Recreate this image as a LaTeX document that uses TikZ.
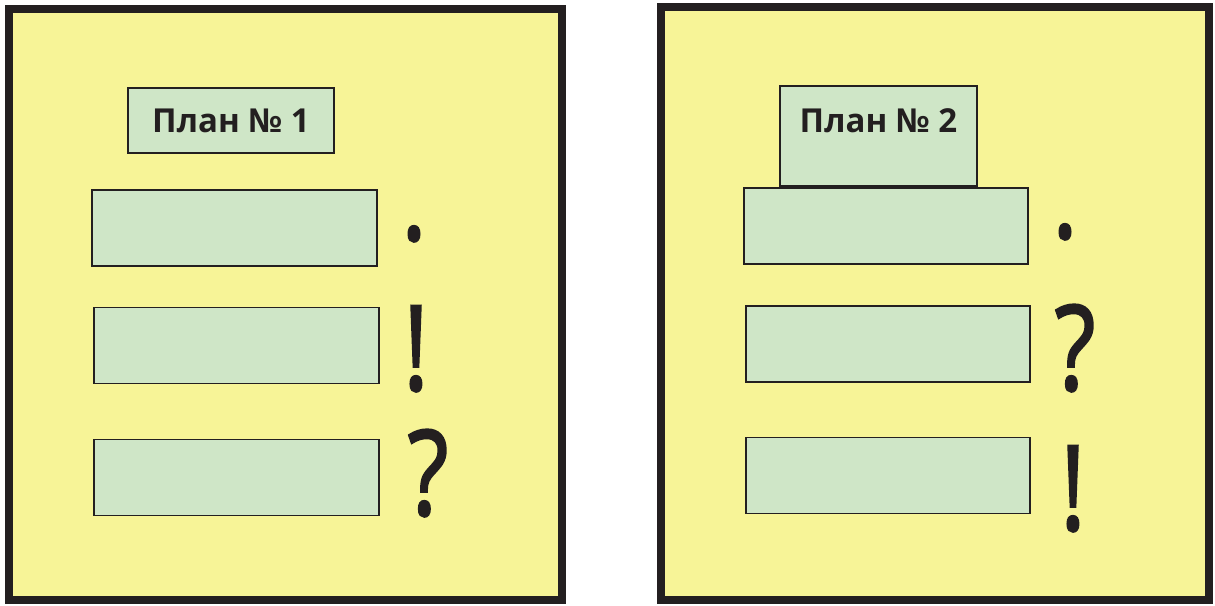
\documentclass[tikz,border=0pt]{standalone}
\usepackage{fontspec}
\setmainfont{Open Sans}
\newfontfamily\punctfont[FakeBold=2]{Open Sans}
\usepackage{xcolor}
\usepackage{tikz}
\usetikzlibrary{positioning}
\definecolor{paper}{HTML}{F7F497}
\definecolor{leaf}{HTML}{CFE6C7}
\definecolor{ink}{HTML}{231F20}
\tikzset{
  panel/.style={draw=ink, fill=paper, line width=8pt, inner sep=0pt},
  slot/.style={draw=ink, fill=leaf, line width=1.6pt, inner sep=0pt, minimum width=285pt, minimum height=76pt},
  punct/.style={anchor=base, text=ink, inner sep=0pt, xscale=0.8, font=\punctfont\fontsize{118}{118}\selectfont},
  heading/.style={font=\fontsize{33}{33}\selectfont\bfseries, text=ink}
}

\begin{document}
\begin{tikzpicture}[x=1pt, y=-1pt]
  \useasboundingbox (0,0) rectangle (1215,605);
  \node[panel, minimum width=553pt, minimum height=591pt] (leftpanel) at (285.5,304.5) {};
  \node[panel, minimum width=548pt, minimum height=593pt] (rightpanel) at (935,303.5) {};
  % plan 1
  \node[slot, heading, minimum width=206pt, minimum height=65pt] (title1) at (231,120.5) {План № 1};
  \node[slot] (left1) at (234.5,228) {};
  \node[slot] (left2) at (236.5,345.5) {};
  \node[slot] (left3) at (236.5,477.5) {};
  \node[punct] (dot1) at (414,240) {.};
  \node[punct] (bang1) at (416,390) {!};
  \node[punct] (ask1) at (428,515) {?};
  % plan 2
  \node[slot, minimum width=197pt, minimum height=100pt] (title2) at (878.5,136) {};
  \node[heading, anchor=base] (title2text) at (878.5,132) {План № 2};
  \node[slot, minimum width=284pt] (right1) at (886,226) {};
  \node[slot, minimum width=284pt] (right2) at (888,344) {};
  \node[slot, minimum width=284pt] (right3) at (888,475.5) {};
  \node[punct] (dot2) at (1065,238) {.};
  \node[punct] (ask2) at (1075,390) {?};
  \node[punct] (bang2) at (1073,530) {!};
\end{tikzpicture}
\end{document}
